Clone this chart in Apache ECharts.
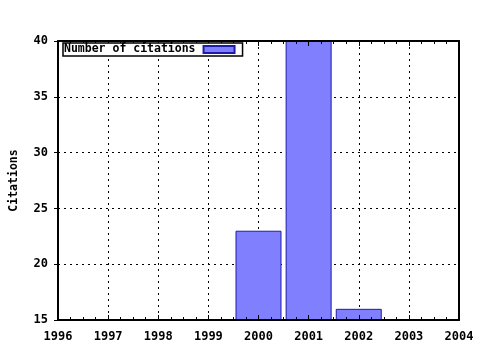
<!DOCTYPE html>
<html>
<head>
<meta charset="utf-8">
<script src="https://cdn.jsdelivr.net/npm/echarts@6/dist/echarts.min.js"></script>
<style>
html,body{margin:0;padding:0;background:#fff;}
#c{width:480px;height:350px;}
</style>
</head>
<body>
<div id="c"></div>
<script>
const years = [2000, 2001, 2002];
const citations = [23, 40, 16];
const xTicks = [1996, 1997, 1998, 1999, 2000, 2001, 2002, 2003, 2004];
const yTicks = [15, 20, 25, 30, 35, 40];
const seriesName = 'Number of citations';
const yTitle = 'Citations';

const FONT = 'DejaVu Sans Mono';
const chart = echarts.init(document.getElementById('c'), null, {renderer: 'canvas'});
const dotted = {color: '#000', width: 1, type: [2, 4]};
const xMin = xTicks[0], xMax = xTicks[xTicks.length - 1];
const yMin = yTicks[0], yMax = yTicks[yTicks.length - 1];
const axisLine = {show: true, lineStyle: {color: '#000', width: 2}};
const hidden = {show: false};
chart.setOption({
  animation: false,
  backgroundColor: '#fff',
  grid: {left: 57, right: 21, top: 41, bottom: 30},
  legend: {
    left: 63, top: 43, z: 20,
    data: [seriesName],
    icon: 'rect',
    itemWidth: 31, itemHeight: 7,
    align: 'right',
    backgroundColor: '#fff',
    borderColor: '#000', borderWidth: 1.5, borderRadius: 0,
    padding: [0, 7, 0, 1],
    textStyle: {fontFamily: FONT, fontWeight: 'bold', fontSize: 11.5, color: '#000', lineHeight: 13, padding: [0, 3, 0, 0]},
  },
  xAxis: [{
    // grid lines only (under bars)
    type: 'value', position: 'bottom', z: 0,
    min: xMin, max: xMax, interval: 1,
    axisLine: hidden, axisTick: hidden, axisLabel: hidden,
    splitLine: {show: true, lineStyle: dotted},
  }, {
    type: 'value', position: 'bottom', z: 10,
    min: xMin, max: xMax, interval: 1,
    axisLine: axisLine,
    axisTick: {show: true, inside: true, length: 5, lineStyle: {color: '#000', width: 1}},
    minorTick: {show: true, splitNumber: 4, length: 3, lineStyle: {color: '#000', width: 1}},
    splitLine: hidden,
    axisLabel: {margin: 11, fontFamily: FONT, fontWeight: 'bold', fontSize: 12, color: '#000',
      formatter: v => xTicks.includes(v) ? String(v) : ''},
  }, {
    type: 'value', position: 'top', z: 10,
    min: xMin, max: xMax, interval: 1,
    axisLine: axisLine,
    axisTick: {show: true, inside: true, length: 5, lineStyle: {color: '#000', width: 1}},
    minorTick: {show: true, splitNumber: 4, length: 3, lineStyle: {color: '#000', width: 1}},
    splitLine: hidden, axisLabel: hidden,
  }],
  yAxis: [{
    type: 'value', position: 'left', z: 0,
    min: yMin, max: yMax, interval: 5,
    axisLine: hidden, axisTick: hidden, axisLabel: hidden,
    splitLine: {show: true, lineStyle: dotted},
  }, {
    type: 'value', position: 'left', z: 10,
    min: yMin, max: yMax, interval: 5,
    name: yTitle, nameLocation: 'middle', nameGap: 38,
    nameTextStyle: {fontFamily: FONT, fontWeight: 'bold', fontSize: 11.5, color: '#000'},
    axisLine: axisLine,
    axisTick: {show: true, inside: false, length: 4, lineStyle: {color: '#000'}},
    splitLine: hidden,
    axisLabel: {margin: 10, fontFamily: FONT, fontWeight: 'bold', fontSize: 12, color: '#000'},
  }, {
    type: 'value', position: 'right', z: 10,
    min: yMin, max: yMax, interval: 5,
    axisLine: axisLine,
    axisTick: hidden, splitLine: hidden, axisLabel: hidden,
  }],
  series: [{
    name: seriesName,
    type: 'bar',
    xAxisIndex: 0, yAxisIndex: 0,
    barWidth: 46,
    data: years.map((y, i) => [y, citations[i]]),
    itemStyle: {color: '#8080ff', borderColor: '#1c1ca8', borderWidth: 1},
    z: 2,
  }],
});
</script>
</body>
</html>
